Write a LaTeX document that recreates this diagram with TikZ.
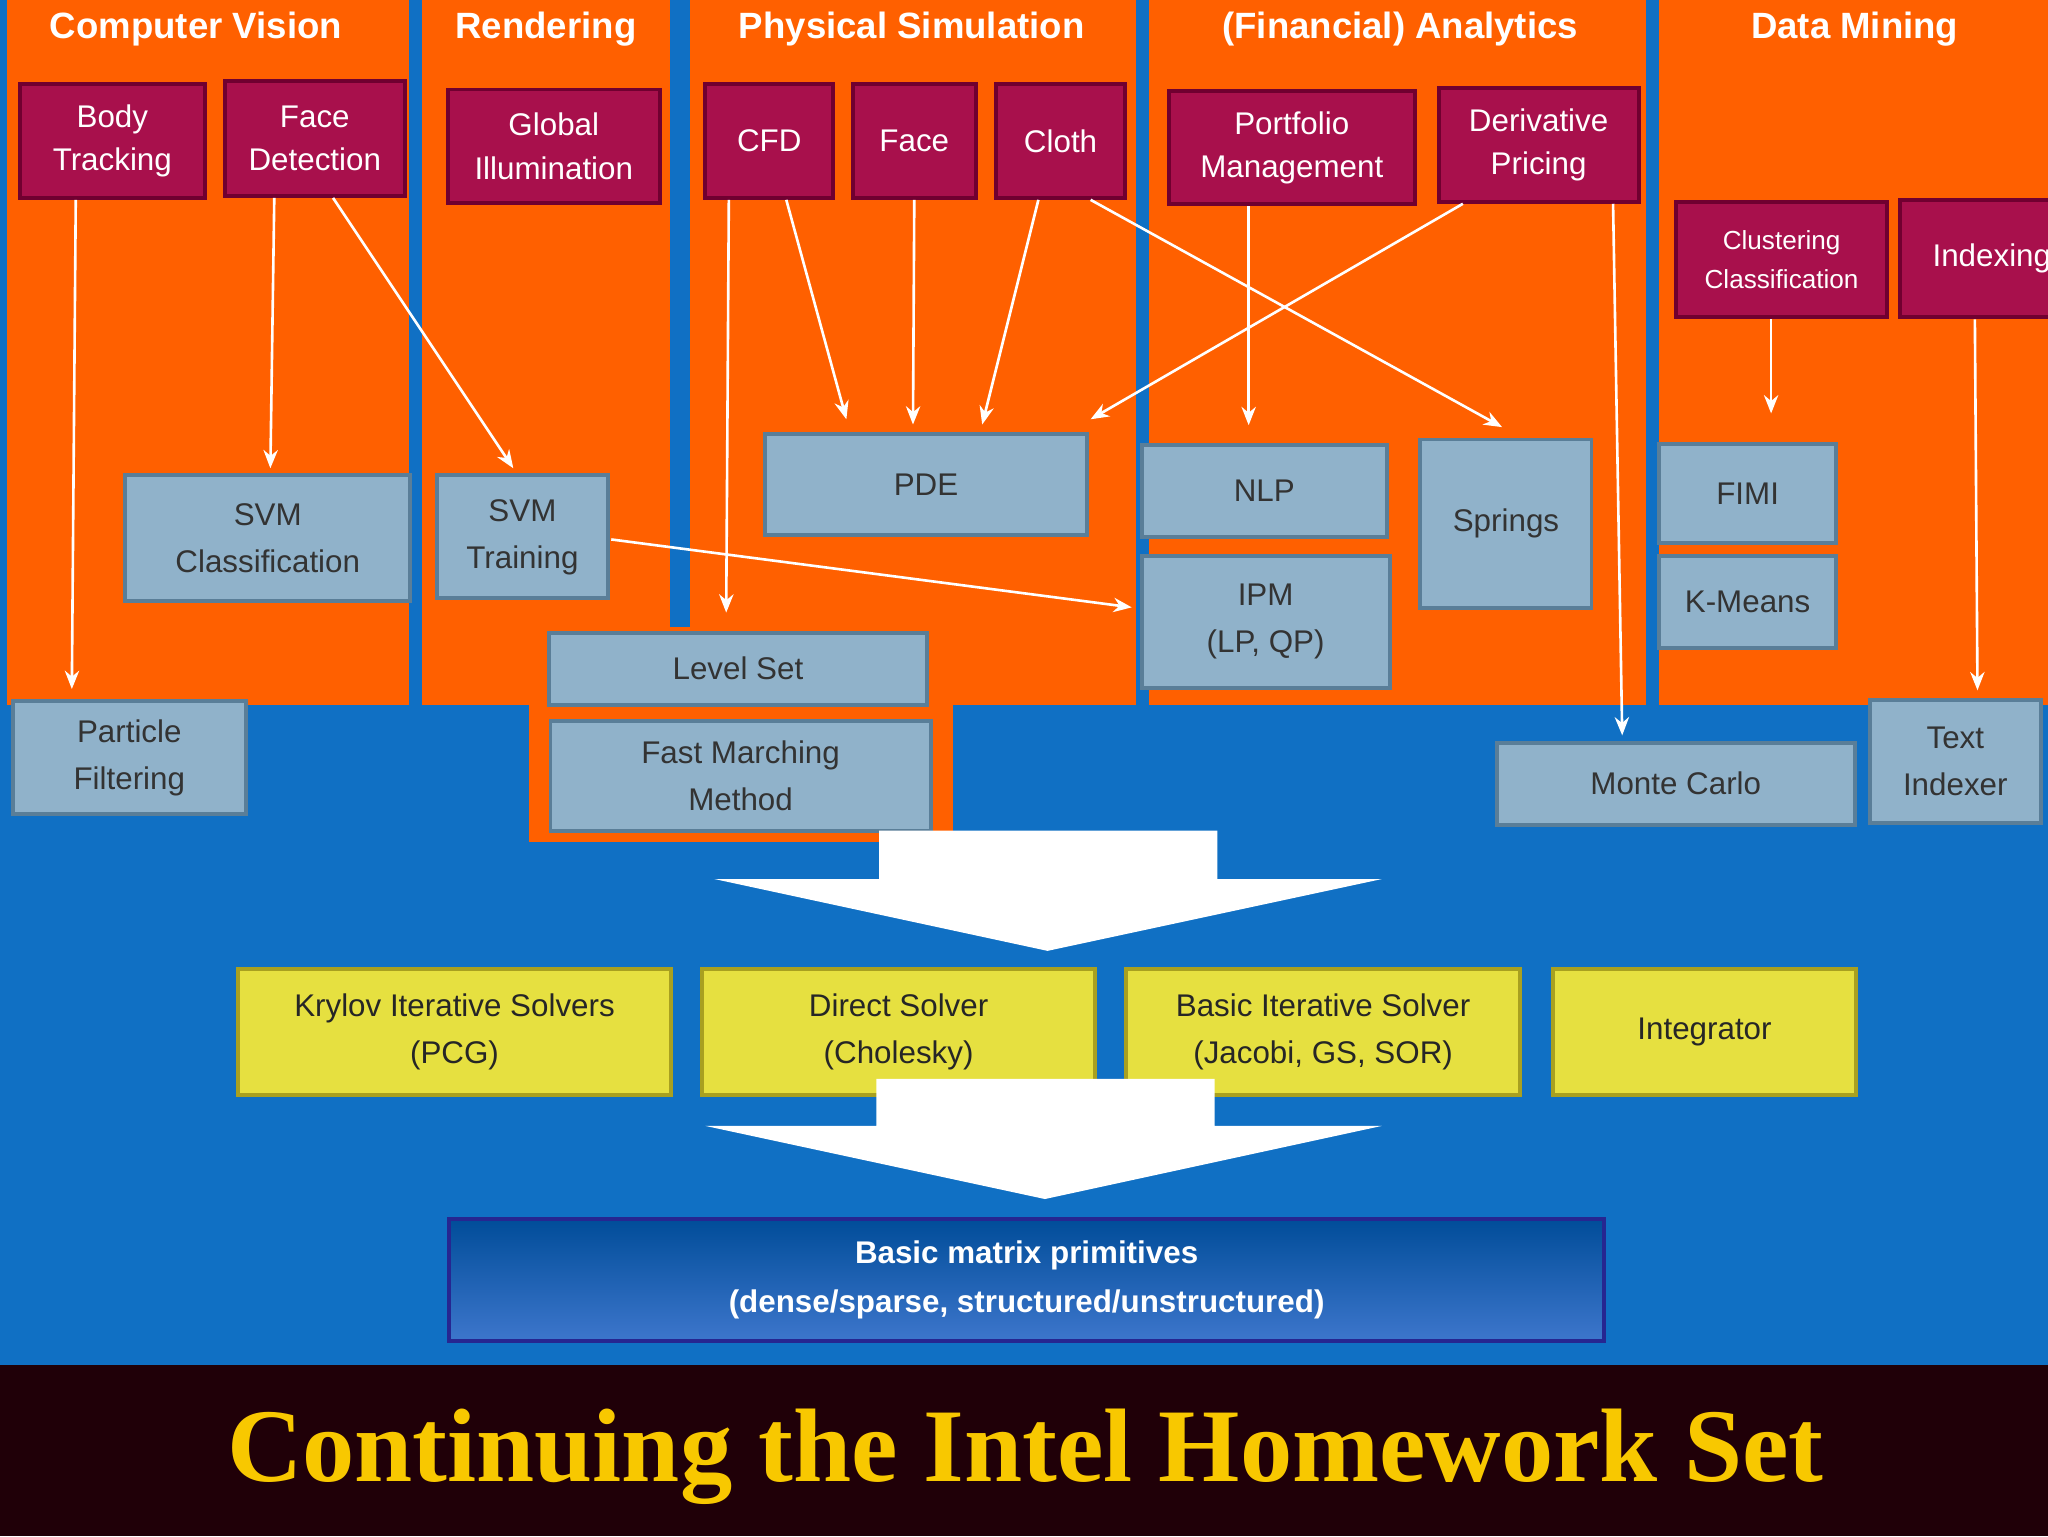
\documentclass[tikz,border=0pt]{standalone}
\usepackage{fontspec}
\setmainfont{Liberation Sans}
\newfontfamily\titlefont{Liberation Serif}
\usetikzlibrary{calc,arrows.meta}
\definecolor{bgblue}{HTML}{1070C4}
\definecolor{orng}{HTML}{FF6000}
\definecolor{mag}{HTML}{A8104C}
\definecolor{magd}{HTML}{700030}
\definecolor{lgb}{HTML}{90B2CA}
\definecolor{lgbd}{HTML}{5A7E98}
\definecolor{ylw}{HTML}{E6E040}
\definecolor{ylwd}{HTML}{A8A020}
\definecolor{dark}{HTML}{200008}
\definecolor{ttl}{HTML}{F8C800}
\begin{document}
\begin{tikzpicture}[x=1pt,y=-1pt,
  magbox/.style={fill=mag,draw=magd,line width=3pt,text=white,align=center,font=\fontsize{24}{33}\selectfont,inner sep=0pt},
  gbox/.style={fill=lgb,draw=lgbd,line width=3pt,text=black!80,align=center,font=\fontsize{24}{36}\selectfont,inner sep=0pt},
  ybox/.style={fill=ylw,draw=ylwd,line width=3pt,text=black!85,align=center,font=\fontsize{24}{36}\selectfont,inner sep=0pt},
  hdr/.style={text=white,font=\fontsize{28}{28}\selectfont\bfseries},
  arr/.style={white,line width=2pt,-{Stealth[length=14pt,width=11pt]}},
  bigarr/.style={fill=white,draw=none}]
\useasboundingbox (0,0) rectangle (1568,1176);
\fill[bgblue] (0,0) rectangle (1568,1045);
\fill[dark] (0,1045) rectangle (1568,1176);
% orange columns
\fill[orng] (5,0) rectangle (313,540);
\fill[orng] (323,0) rectangle (513,540);
\fill[orng] (528,0) rectangle (870,540);
\fill[orng] (405,480) rectangle (730,645);
\fill[orng] (880,0) rectangle (1260,540);
\fill[orng] (1270,0) rectangle (1568,540);
\fill[bgblue] (515,0) rectangle (528,470);
% headers
\node[hdr] (h1) at (150,22) {Computer Vision};
\node[hdr] (h2) at (418,22) {Rendering};
\node[hdr] (h3) at (698,22) {Physical Simulation};
\node[hdr] (h4) at (1072,22) {(Financial) Analytics};
\node[hdr] (h5) at (1420,22) {Data Mining};
% magenta boxes
\node[magbox,minimum width=142pt,minimum height=87pt] (bt) at (86,108) {Body\\Tracking};
\node[magbox,minimum width=138pt,minimum height=88pt] (fd) at (241,106) {Face\\Detection};
\node[magbox,minimum width=162pt,minimum height=87pt] (gi) at (424,112) {Global\\Illumination};
\node[magbox,minimum width=98pt,minimum height=87pt] (cfd) at (589,108) {CFD};
\node[magbox,minimum width=94pt,minimum height=87pt] (face) at (700,108) {Face};
\node[magbox,minimum width=99pt,minimum height=87pt] (cloth) at (812,108) {Cloth};
\node[magbox,minimum width=188pt,minimum height=87pt] (pm) at (989,113) {Portfolio\\Management};
\node[magbox,minimum width=153pt,minimum height=87pt] (dp) at (1178,111) {Derivative\\Pricing};
\node[magbox,minimum width=161pt,minimum height=88pt,font=\fontsize{20}{30}\selectfont] (cc) at (1364,199) {Clustering\\Classification};
\node[magbox,minimum width=115pt,minimum height=90pt,anchor=west] (idx) at (1453,198) {\hspace*{6pt}Indexing\hspace*{-20pt}};
% gray boxes
\node[gbox,minimum width=218pt,minimum height=96pt] (svmc) at (205,412) {SVM\\Classification};
\node[gbox,minimum width=131pt,minimum height=94pt] (svmt) at (400,411) {SVM\\Training};
\node[gbox,minimum width=246pt,minimum height=77pt] (pde) at (709,371) {PDE};
\node[gbox,minimum width=188pt,minimum height=70pt] (nlp) at (968,376) {NLP};
\node[gbox,minimum width=131pt,minimum height=129pt] (spr) at (1153,401) {Springs};
\node[gbox,minimum width=190pt,minimum height=101pt] (ipm) at (969,476) {IPM\\(LP, QP)};
\node[gbox,minimum width=135pt,minimum height=76pt] (fimi) at (1338,378) {FIMI};
\node[gbox,minimum width=135pt,minimum height=70pt] (km) at (1338,461) {K-Means};
\node[gbox,minimum width=290pt,minimum height=55pt] (ls) at (565,512) {Level Set};
\node[gbox,minimum width=291pt,minimum height=84pt] (fmm) at (567,594) {Fast Marching\\Method};
\node[gbox,minimum width=178pt,minimum height=86pt] (pf) at (99,580) {Particle\\Filtering};
\node[gbox,minimum width=274pt,minimum height=63pt] (mc) at (1283,600) {Monte Carlo};
\node[gbox,minimum width=131pt,minimum height=94pt] (ti) at (1497,583) {Text\\Indexer};
% yellow boxes
\node[ybox,minimum width=331pt,minimum height=96pt] (kry) at (348,790) {Krylov Iterative Solvers\\(PCG)};
\node[ybox,minimum width=301pt,minimum height=96pt] (ds) at (688,790) {Direct Solver\\(Cholesky)};
\node[ybox,minimum width=302pt,minimum height=96pt] (bis) at (1013,790) {Basic Iterative Solver\\(Jacobi, GS, SOR)};
\node[ybox,minimum width=232pt,minimum height=96pt] (int) at (1305,790) {Integrator};
% bottom box
\node[minimum width=884pt,minimum height=94pt,inner sep=0pt,draw=black!40!blue!70!gray,line width=3pt,
  top color=blue!50!cyan!60!black,bottom color=blue!60!cyan!70!white!80!black,text=white,align=center,
  font=\fontsize{24}{37}\selectfont\bfseries] (bm) at (786,980) {Basic matrix primitives\\(dense/sparse, structured/unstructured)};
% big white arrows
\fill[bigarr] (673,636) -- (932,636) -- (932,673) -- (1058,673) -- (802,728) -- (547,673) -- (673,673) -- cycle;
\fill[bigarr] (671,826) -- (930,826) -- (930,862) -- (1058,862) -- (800,918) -- (540,862) -- (671,862) -- cycle;
% connectors
\draw[arr] ($(bt.south)+(-28,0)$) -- ($(pf.north)+(-44,-8)$);
\draw[arr] ($(fd.south)+(-31,0)$) -- ($(svmc.north)+(2,-4)$);
\draw[arr] ($(fd.south)+(14,0)$) -- ($(svmt.north)+(-7,-4)$);
\draw[arr] ($(cfd.south)+(-31,0)$) -- ($(ls.north)+(-9,-14)$);
\draw[arr] ($(cfd.south)+(13,0)$) -- ($(pde.north)+(-61,-10)$);
\draw[arr] (face.south) -- ($(pde.north)+(-10,-6)$);
\draw[arr] ($(cloth.south)+(-17,0)$) -- ($(pde.north)+(43,-6)$);
\draw[arr] ($(cloth.south)+(23,0)$) -- ($(spr.north)+(-3,-8)$);
\draw[arr] ($(dp.south)+(-58,0)$) -- ($(pde.north)+(126,-10)$);
\draw[arr] ($(pm.south)+(-33,0)$) -- ($(nlp.north)+(-12,-14)$);
\draw[arr] ($(dp.south)+(57,0)$) -- ($(mc.north)+(-41,-4)$);
\draw[arr] ($(svmt.east)+(1,2)$) -- ($(ipm.west)+(-6,-11)$);
\draw[arr] ($(cc.south)+(-8,0)$) -- ($(fimi.north)+(18,-22)$);
\draw[arr] ($(idx.south)+(0,0)$) -- ($(ti.north)+(17,-6)$);
% title
\node[text=ttl,font=\titlefont\fontsize{80}{80}\selectfont\bfseries] (title) at (785,1115) {Continuing the Intel Homework Set};
\end{tikzpicture}
\end{document}
